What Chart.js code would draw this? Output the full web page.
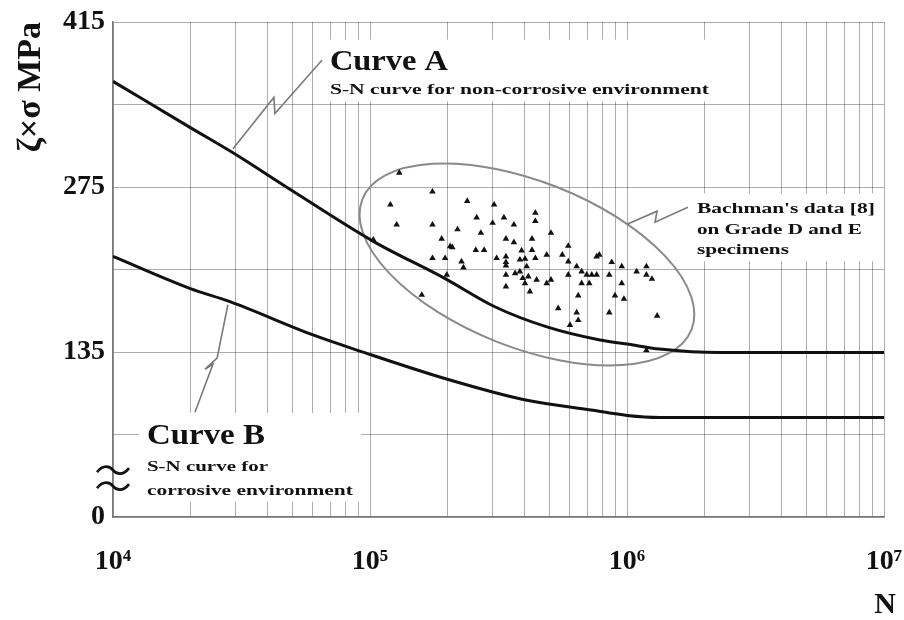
<!DOCTYPE html>
<html>
<head>
<meta charset="utf-8">
<script src="https://cdn.jsdelivr.net/npm/chart.js@4.4.1/dist/chart.umd.min.js"></script>
<style>
    html, body { margin: 0; padding: 0; background: #fff; }
</style>
</head>
<body>
<canvas id="myChart" width="904" height="620"></canvas>
<script>
// Curve A - S-N curve for non-corrosive environment
const curveA_N = [1e4, 2e4, 2.93e4, 5.0e4, 1.03e5, 1.96e5, 3.06e5, 4.88e5, 7.85e5, 1e6, 1.34e6, 2.3e6, 1e7];
const curveA_S = [364.6, 325.4, 304, 271.6, 228.9, 197.3, 173.4, 156.3, 145.2, 141.8, 137.5, 134.5, 134.5];

// Curve B - S-N curve for corrosive environment
const curveB_N = [1e4, 2e4, 2.85e4, 6.0e4, 9.14e4, 2.0e5, 4.08e5, 7.38e5, 1e6, 1.34e6, 1e7];
const curveB_S = [216.1, 188.8, 177.7, 149.5, 135.8, 111.9, 94.0, 85.5, 81.2, 79.5, 79.5];

// Bachman's data [8]
const bachman_N = [1.30e5, 1.75e5, 1.20e5, 2.39e5, 3.04e5, 1.27e5, 1.75e5, 2.60e5, 3.00e5, 3.32e5,
    4.40e5, 4.40e5, 3.63e5, 2.19e5, 2.70e5, 5.06e5, 1.90e5, 3.38e5, 3.63e5, 4.27e5,
    2.05e5, 2.09e5, 2.58e5, 2.78e5, 3.89e5, 4.27e5, 5.91e5, 4.87e5, 5.60e5, 1.75e5,
    1.96e5, 2.27e5, 2.31e5, 3.11e5, 3.38e5, 3.38e5, 3.83e5, 4.01e5, 4.40e5, 3.38e5,
    4.07e5, 5.91e5, 7.62e5, 7.80e5, 6.37e5, 6.66e5, 8.72e5, 9.54e5, 1.19e6, 1.09e6,
    1.99e5, 3.38e5, 3.67e5, 3.83e5, 3.93e5, 4.13e5, 4.45e5, 4.87e5, 5.06e5, 5.91e5,
    6.97e5, 7.29e5, 7.62e5, 8.53e5, 1.19e6, 1.25e6, 6.66e5, 7.13e5, 9.54e5, 3.38e5,
    4.19e5, 4.01e5, 1.59e5, 6.46e5, 8.98e5, 9.73e5, 5.40e5, 6.37e5, 8.53e5, 6.46e5,
    6.00e5, 1.31e6, 1.03e5, 1.19e6];
const bachman_S = [287, 271, 260, 263, 260, 243, 243, 249, 244.5, 249,
    253, 246, 243, 239, 236, 236, 231, 231, 228, 231,
    224.6, 223.8, 221.5, 221.5, 221, 221.5, 225, 217.5, 217.5, 214.6,
    214.6, 211.8, 206.7, 214.6, 216, 211.2, 213.3, 214.1, 214.6, 208.4,
    207.6, 211.8, 216, 217.5, 207.6, 203.3, 211.2, 207.6, 207.6, 203.3,
    200.5, 200.5, 201.8, 203.3, 197.6, 199, 196.2, 193.3, 196.2, 200.5,
    200.5, 200.5, 200.5, 200.5, 200.5, 197, 193.3, 193.3, 193.3, 190.5,
    186.2, 193.3, 183.4, 182.8, 182.8, 180, 172, 168.5, 168.5, 162,
    157.8, 165.7, 230.3, 136.4];

// Подписи осей
const xMajorTicks = [1e4, 1e5, 1e6, 1e7];
const xTickLabels = ['10\u2074', '10\u2075', '10\u2076', '10\u2077'];
const yTicks = [-5, 65, 135, 205, 275, 345, 415];
const yTickLabels = ['0', '', '135', '', '275', '', '415'];

const SERIF = '"Liberation Serif", "Times New Roman", serif';
const toPoints = (xs, ys) => xs.map((v, i) => ({ x: v, y: ys[i] }));

// Все линии сетки: 1..9 x 10^n
function logGridTicks() {
    const res = [];
    for (let d = 0; d < xMajorTicks.length - 1; d++) {
        for (let m = 1; m < 10; m++) res.push({ value: xMajorTicks[d] * m });
    }
    res.push({ value: xMajorTicks[xMajorTicks.length - 1] });
    return res;
}

// Надпись с растяжкой по ширине
function stretchText(ctx, text, px, py, size, width) {
    ctx.save();
    ctx.font = `bold ${size}px ${SERIF}`;
    ctx.fillStyle = '#111';
    ctx.textBaseline = 'alphabetic';
    const m = ctx.measureText(text).width;
    ctx.translate(px, py);
    ctx.scale(width / m, 1);
    ctx.fillText(text, 0, 0);
    ctx.restore();
}

function leader(ctx, pts) {
    ctx.save();
    ctx.strokeStyle = '#7a7a7a';
    ctx.lineWidth = 1.6;
    ctx.beginPath();
    pts.forEach((p, i) => (i ? ctx.lineTo(p[0], p[1]) : ctx.moveTo(p[0], p[1])));
    ctx.stroke();
    ctx.restore();
}

// Блок текста на белой подложке: строки [text, size, width]
function noteBlock(ctx, P, anchor, lines, gaps) {
    const [x0, y0] = P(anchor[0], anchor[1]);
    let maxW = 0;
    lines.forEach(l => { maxW = Math.max(maxW, l[2]); });
    let last = y0;
    gaps.forEach(g => { last += g; });
    ctx.save();
    ctx.fillStyle = '#fff';
    ctx.fillRect(x0 - 8, y0 - lines[0][1] * 0.72 - 9, maxW + 16, last - y0 + lines[0][1] * 0.72 + 16);
    ctx.restore();
    let yy = y0;
    lines.forEach((l, i) => {
        if (i > 0) yy += gaps[i - 1];
        stretchText(ctx, l[0], x0, yy, l[1], l[2]);
    });
}

const annotations = {
    id: 'annotations',
    beforeDatasetsDraw(chart) {
        const { ctx, scales: { x, y } } = chart;
        // эллипс вокруг данных Бахмана
        const cx = x.getPixelForValue(4.08e5);
        const cy = y.getPixelForValue(209.3);
        ctx.save();
        ctx.strokeStyle = '#8a8a8a';
        ctx.lineWidth = 2;
        ctx.beginPath();
        ctx.ellipse(cx, cy, 177, 83, 21.6 * Math.PI / 180, 0, Math.PI * 2);
        ctx.stroke();
        ctx.restore();
    },
    afterDatasetsDraw(chart) {
        const { ctx, scales: { x, y }, chartArea } = chart;
        const P = (lg, s) => [x.getPixelForValue(Math.pow(10, lg)), y.getPixelForValue(s)];

        noteBlock(ctx, P, [4.844, 374], [
            ['Curve A', 30, 118],
            ['S-N curve for non-corrosive environment', 15, 379],
        ], [24]);
        noteBlock(ctx, P, [4.132, 57.3], [
            ['Curve B', 30, 118],
            ['S-N curve for', 15, 121],
            ['corrosive environment', 15, 206],
        ], [27, 24]);
        noteBlock(ctx, P, [6.272, 252.8], [
            ["Bachman's data [8]", 15, 178],
            ['on Grade D and E', 15, 165],
            ['specimens', 15, 92],
        ], [21, 20]);

        leader(ctx, [P(4.467, 307.4), P(4.626, 351), P(4.630, 337.3), P(4.813, 382.6)]);
        leader(ctx, [P(4.447, 175.1), P(4.405, 129.8), P(4.358, 120.4), P(4.389, 124.7), P(4.319, 83.8)]);
        leader(ctx, [P(6.0, 243.4), P(6.117, 254.5), P(6.109, 245.1), P(6.237, 257.9)]);

        // знак разрыва оси
        const [bx, by] = P(4, 28);
        ctx.save();
        ctx.strokeStyle = '#111';
        ctx.lineWidth = 2.6;
        [-8, 8].forEach(dy => {
            const yy = by + dy;
            ctx.beginPath();
            ctx.moveTo(bx - 16, yy + 2);
            ctx.bezierCurveTo(bx - 10, yy - 6, bx - 3, yy - 4, bx, yy);
            ctx.bezierCurveTo(bx + 3, yy + 4, bx + 10, yy + 6, bx + 16, yy - 2);
            ctx.stroke();
        });
        ctx.restore();

        // подпись оси N
        ctx.save();
        ctx.font = `bold 30px ${SERIF}`;
        ctx.fillStyle = '#111';
        ctx.textAlign = 'center';
        ctx.fillText('N', chartArea.right + 1, chartArea.bottom + 96);
        ctx.restore();
    }
};

const gridColor = 'rgba(0, 0, 0, 0.32)';

const ctx = document.getElementById('myChart').getContext('2d');
const myChart = new Chart(ctx, {
    data: {
        datasets: [
            {
                type: 'line',
                label: 'Curve A',
                data: toPoints(curveA_N, curveA_S),
                borderColor: '#111',
                borderWidth: 3,
                pointRadius: 0,
                cubicInterpolationMode: 'monotone',
            },
            {
                type: 'line',
                label: 'Curve B',
                data: toPoints(curveB_N, curveB_S),
                borderColor: '#111',
                borderWidth: 3,
                pointRadius: 0,
                cubicInterpolationMode: 'monotone',
            },
            {
                type: 'scatter',
                label: "Bachman's data [8]",
                data: toPoints(bachman_N, bachman_S),
                pointStyle: 'triangle',
                pointRadius: 3.8,
                backgroundColor: '#111',
                borderColor: '#111',
                borderWidth: 0,
            },
        ]
    },
    options: {
        responsive: false,
        animation: false,
        layout: { padding: { top: 22, right: 20, bottom: 0, left: 0 } },
        plugins: {
            legend: { display: false },
            tooltip: { enabled: false },
        },
        scales: {
            x: {
                type: 'logarithmic',
                position: 'bottom',
                min: 1e4,
                max: 1e7,
                afterBuildTicks: (s) => { s.ticks = logGridTicks(); },
                afterFit: (s) => { s.height = 103; s.paddingLeft = 0; s.paddingRight = 0; },
                ticks: {
                    autoSkip: false,
                    maxRotation: 0,
                    padding: 28,
                    color: '#111',
                    font: { family: SERIF, size: 28, weight: 'bold' },
                    callback: (v) => {
                        const i = xMajorTicks.indexOf(v);
                        return i >= 0 ? xTickLabels[i] : '';
                    },
                },
                grid: { color: gridColor, lineWidth: 1, drawTicks: false },
                border: { color: '#777', width: 1.5 },
            },
            y: {
                type: 'linear',
                min: -5,
                max: 415,
                afterBuildTicks: (s) => { s.ticks = yTicks.map(v => ({ value: v })); },
                afterFit: (s) => { s.width = 113; s.paddingTop = 0; s.paddingBottom = 0; },
                ticks: {
                    padding: 8,
                    color: '#111',
                    font: { family: SERIF, size: 28, weight: 'bold' },
                    callback: (v) => yTickLabels[yTicks.indexOf(v)],
                },
                title: {
                    display: true,
                    text: '\u03B6\u00D7\u03C3 MPa',
                    align: 'end',
                    color: '#111',
                    font: { family: SERIF, size: 34, weight: 'bold' },
                    padding: { top: 11, bottom: 0 },
                },
                grid: { color: gridColor, lineWidth: 1, drawTicks: false },
                border: { color: '#777', width: 1.5 },
            },
        },
    },
    plugins: [annotations],
});
</script>
</body>
</html>
